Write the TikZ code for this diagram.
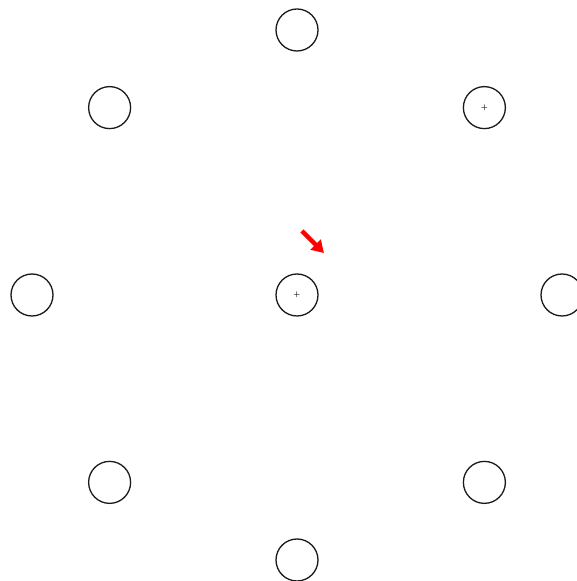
\documentclass[tikz,border=0pt]{standalone}
\usepackage{tikz}
\usetikzlibrary{positioning, arrows.meta, calc}
\definecolor{ringBorder}{HTML}{1A1A1A}
\definecolor{arrowRed}{HTML}{FF0000}
\tikzset{
  spot/.style={circle, draw=ringBorder, fill=white, minimum size=42pt,
    inner sep=0pt, line width=1.3pt, font=\scriptsize\bfseries},
  pointer/.style={-{Triangle[length=12pt, width=14pt]}, line width=4.5pt,
    color=arrowRed},
}
\begin{document}
\begin{tikzpicture}[x=1pt, y=1pt]
  \useasboundingbox (0,0) rectangle (576,581);

  % === Hub in the middle ===
  \node[spot] (hub) at (297,286) {+};

  % === Ring of eight spots around the hub ===
  \foreach \ang/\nm in {0/E, 90/N, 180/W, 270/S, 135/NW, 225/SW, 315/SE}
    \node[spot] (spot\nm) at ($(hub)+(\ang:265)$) {};
  \node[spot] (spotNE) at ($(hub)+(45:265)$) {+};

  % === Red pointer ===
  \coordinate (ptrTail) at (302,350);
  \coordinate (ptrTip) at (324,328);
  \draw[pointer] (ptrTail) -- (ptrTip);

\end{tikzpicture}
\end{document}
